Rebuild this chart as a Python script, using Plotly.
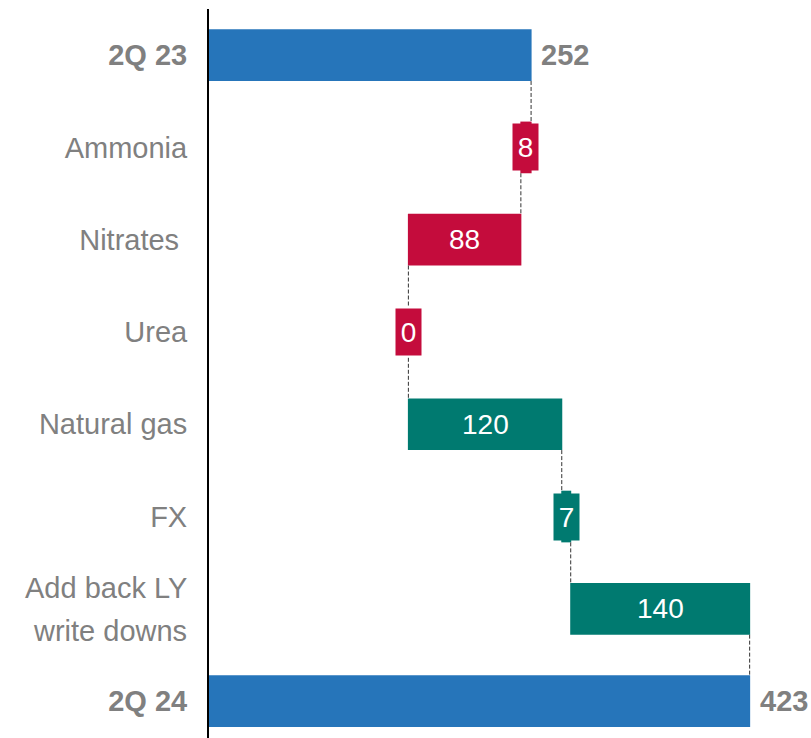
import plotly.graph_objects as go

categories = ["2Q 23", "Ammonia", "Nitrates ", "Urea", "Natural gas", "FX",
              "Add back LY write downs", "2Q 24"]
tick_labels = ["<b>2Q 23</b>", "Ammonia", "Nitrates ", "Urea", "Natural gas", "FX",
               "", "<b>2Q 24</b>"]
split_label = ["Add back LY", "write downs"]
values = [252, -8, -88, 0, 120, 7, 140, 423]
measures = ["absolute", "relative", "relative", "relative", "relative", "relative", "relative", "total"]
kinds = ["total", "neg", "neg", "neg", "pos", "pos", "pos", "total"]

BLUE = "#2675BA"
RED = "#C40C3C"
TEAL = "#007A70"
GREY = "#808080"
FONT = "Liberation Sans, Arial"
color_of = {"total": BLUE, "neg": RED, "pos": TEAL}

fig = go.Figure(go.Waterfall(
    orientation="h",
    y=categories,
    x=values,
    measure=measures,
    textinfo="none",
    increasing=dict(marker=dict(color=TEAL)),
    decreasing=dict(marker=dict(color=RED)),
    totals=dict(marker=dict(color=BLUE)),
    connector=dict(mode="between", line=dict(color="#333333", width=1, dash="4px,2px")),
    hoverinfo="skip",
))

annotations = []
running = 0
for cat, v, m, k in zip(categories, values, measures, kinds):
    if m in ("absolute", "total"):
        end = v
        annotations.append(dict(
            x=end, y=cat, xref="x", yref="y", text=f"<b>{v}</b>", showarrow=False,
            xanchor="left", xshift=8, font=dict(family=FONT, size=29, color=GREY)))
        running = end
    else:
        start = running
        end = running + v
        mid = (start + end) / 2
        small = abs(v) < 20
        a = dict(x=mid, y=cat, xref="x", yref="y", text=str(abs(v)), showarrow=False,
                 xanchor="center", font=dict(family=FONT, size=28, color="white"))
        if small:
            a.update(bgcolor=color_of[k], width=21, height=42, borderpad=2)
        annotations.append(a)
        running = end

# two-line category label
for line, shift in zip(split_label, [21, -22]):
    annotations.append(dict(
        x=0, y=categories[6], xref="paper", yref="y", text=line, showarrow=False,
        xanchor="right", xshift=-20, yshift=shift,
        font=dict(family=FONT, size=29, color=GREY)))

fig.update_layout(
    width=811, height=738,
    margin=dict(l=209, r=0, t=9, b=0, autoexpand=False),
    paper_bgcolor="white", plot_bgcolor="white",
    waterfallgap=0.44,
    showlegend=False,
    hovermode=False,
    annotations=annotations,
    xaxis=dict(range=[0, 471], showgrid=False, zeroline=False, showticklabels=False,
               showline=False, automargin=False, fixedrange=True),
    yaxis=dict(type="category", range=[7.40, -0.5], showgrid=False, zeroline=False,
               showline=True, linecolor="black", linewidth=2, automargin=False,
               ticks="", ticklabelstandoff=14, fixedrange=True,
               tickmode="array", tickvals=categories, ticktext=tick_labels,
               tickfont=dict(family=FONT, size=29, color=GREY)),
)

fig.write_html(
    "out.html",
    config={"displayModeBar": False, "staticPlot": True},
    post_script="document.body.style.margin='0';document.body.style.overflow='hidden';",
)
